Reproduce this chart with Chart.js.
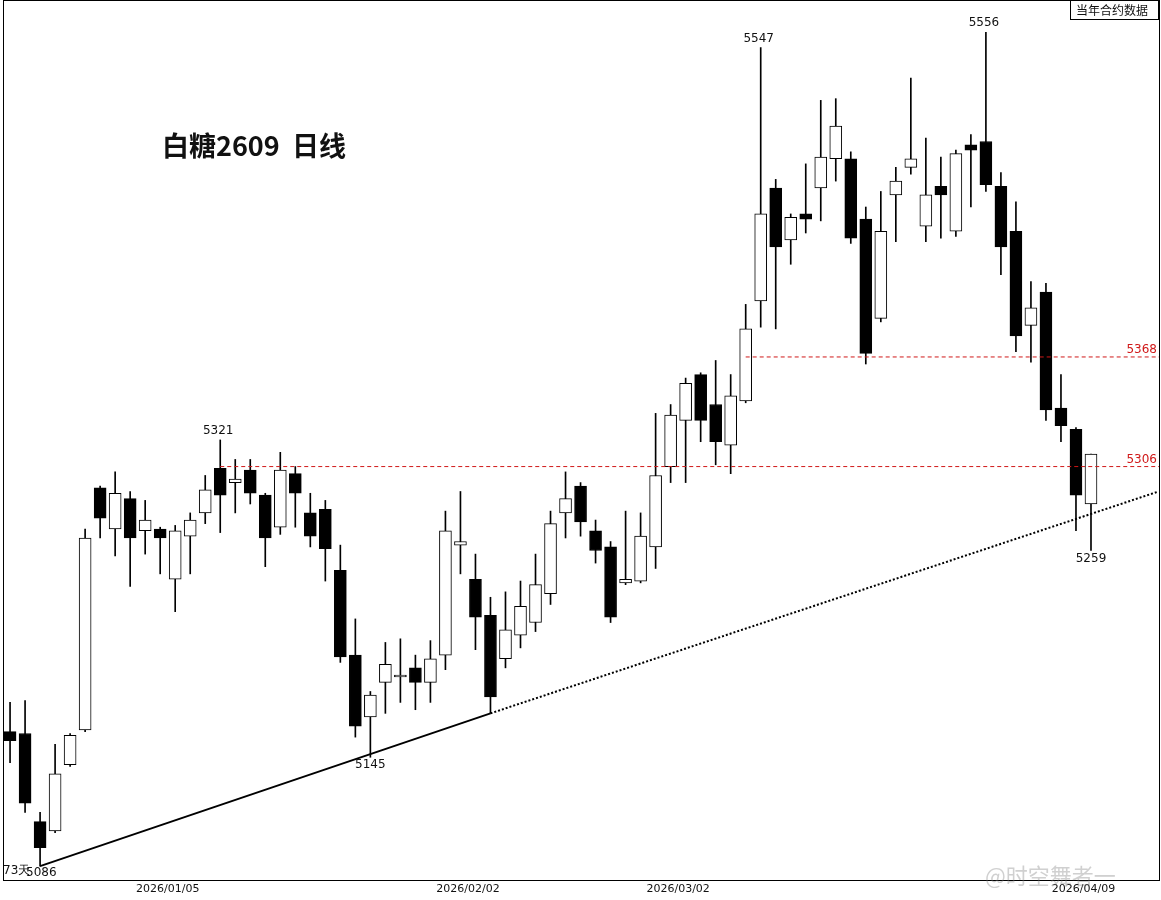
<!DOCTYPE html>
<html>
<head>
<meta charset="utf-8">
<script src="https://cdn.jsdelivr.net/npm/chart.js@4.4.1/dist/chart.umd.min.js"></script>
<style>
  html, body { margin: 0; padding: 0; background: #fff; }
</style>
</head>
<body>
<canvas id="c" width="1161" height="900"></canvas>
<script>
// daily OHLC
const opens  = [5159,5158,5110,5105,5141,5160,5294,5271,5288,5270,5271,5243,5267,5280,5305,5297,5304,5290,5272,5302,
                5280,5282,5248,5201,5167,5186,5189,5194,5186,5201,5262,5243,5223,5199,5212,5219,5235,5280,5295,5270,
                5261,5241,5242,5261,5306,5332,5358,5341,5318,5343,5400,5465,5435,5450,5465,5482,5482,5447,5390,5461,
                5477,5443,5466,5440,5490,5492,5466,5440,5386,5405,5339,5327,5285];
const highs  = [5175,5176,5115,5152,5158,5271,5295,5303,5292,5287,5272,5273,5280,5301,5321,5310,5310,5291,5314,5306,
                5291,5287,5262,5221,5181,5208,5210,5201,5209,5281,5292,5257,5233,5236,5242,5257,5281,5303,5297,5276,
                5264,5281,5280,5336,5341,5356,5359,5366,5358,5398,5547,5470,5450,5479,5516,5517,5486,5454,5463,5477,
                5529,5494,5483,5487,5496,5556,5474,5457,5411,5410,5358,5328,5313];
const lows   = [5142,5115,5086,5104,5140,5159,5266,5256,5239,5257,5246,5225,5246,5274,5269,5280,5285,5250,5268,5272,
                5261,5242,5197,5156,5145,5169,5175,5171,5175,5193,5246,5204,5169,5194,5205,5214,5229,5266,5267,5252,
                5219,5240,5241,5249,5297,5297,5320,5307,5302,5342,5385,5384,5421,5439,5446,5469,5433,5364,5388,5434,
                5473,5434,5436,5437,5454,5463,5415,5371,5365,5332,5320,5270,5259];
const closes = [5154,5120,5096,5136,5157,5266,5277,5291,5266,5276,5266,5270,5276,5293,5290,5299,5291,5266,5304,5291,
                5267,5260,5200,5162,5179,5196,5190,5186,5199,5270,5264,5222,5178,5215,5228,5240,5274,5288,5275,5259,
                5222,5243,5267,5301,5335,5353,5332,5320,5346,5384,5450,5431,5448,5447,5483,5501,5436,5370,5440,5469,
                5482,5461,5461,5485,5487,5467,5431,5380,5396,5338,5329,5290,5313];

// bottom axis dates (candle index positions)
const dateLabels = ['2026/01/05', '2026/02/02', '2026/03/02', '2026/04/09'];
const dateIdx = [10.5, 30.5, 44.5, 71.5];

// trend line points and levels
const trendX = [2, 32, 76.5];
const trendY = [5086, 5169, 5292];
const levels = [5368, 5306];
const levelStart = [49, 14];

// marked extremes: index, price, text position
const marks = [
  { i: 50, v: 5547, pos: 'above' },
  { i: 65, v: 5556, pos: 'above' },
  { i: 14, v: 5321, pos: 'above' },
  { i: 24, v: 5145, pos: 'below' },
  { i: 72, v: 5259, pos: 'below' },
];

const idx = opens.map((_, i) => i);
const bodies = idx.map(i => ({ x: i, y: [opens[i], closes[i]] }));
const wicks = idx.map(i => ({ x: i, y: [lows[i], highs[i]] }));
const up = idx.map(i => closes[i] >= opens[i]);

const XMAX = 76.53;

const overlay = {
  id: 'overlay',
  afterDraw(chart) {
    const ctx = chart.ctx;
    const xs = chart.scales.x, ys = chart.scales.y;
    const a = chart.chartArea;
    ctx.save();
    // frame
    ctx.strokeStyle = '#000';
    ctx.lineWidth = 1;
    ctx.strokeRect(a.left + 0.5, a.top + 0.5, a.right - a.left, a.bottom - a.top);

    // level labels
    ctx.fillStyle = '#d01818';
    ctx.font = '12px "DejaVu Sans", sans-serif';
    ctx.textAlign = 'right';
    ctx.textBaseline = 'bottom';
    levels.forEach(v => ctx.fillText(String(v), a.right - 2, ys.getPixelForValue(v) - 1));

    // extremes
    ctx.fillStyle = '#111';
    ctx.textAlign = 'center';
    marks.forEach(m => {
      const x = xs.getPixelForValue(m.i);
      const y = ys.getPixelForValue(m.v);
      if (m.pos === 'above') { ctx.textBaseline = 'bottom'; ctx.fillText(String(m.v), x - 2, y - 3); }
      else { ctx.textBaseline = 'top'; ctx.fillText(String(m.v), x, y + 2); }
    });
    // low marker with day count
    ctx.textBaseline = 'middle';
    ctx.textAlign = 'left';
    const lx = xs.getPixelForValue(2), ly = ys.getPixelForValue(5086);
    ctx.fillText('73天', a.left, ly + 5);
    ctx.fillText('5086', lx - 14, ly + 7);

    // dates
    ctx.textAlign = 'center';
    ctx.textBaseline = 'top';
    ctx.font = '11px "DejaVu Sans", sans-serif';
    dateLabels.forEach((d, k) => ctx.fillText(d, xs.getPixelForValue(dateIdx[k]), a.bottom + 4));

    // title
    ctx.textAlign = 'left';
    ctx.textBaseline = 'middle';
    ctx.font = 'bold 27px "Noto Sans CJK SC", serif';
    ctx.fillText('白糖2609  日线', 162, 146);

    // top-right note
    ctx.font = '12px "Noto Sans CJK SC", sans-serif';
    ctx.textAlign = 'center';
    ctx.fillText('当年合约数据', 1112, 10);
    ctx.strokeRect(1070.5, 0.5, 88, 19);

    // watermark
    ctx.fillStyle = 'rgba(120,120,120,0.35)';
    ctx.font = '22px "Noto Sans CJK SC", sans-serif';
    ctx.textAlign = 'left';
    ctx.fillText('@时空舞者一', 985, 876);
    ctx.restore();
  }
};

new Chart(document.getElementById('c'), {
  data: {
    datasets: [
      {
        type: 'bar', data: wicks, order: 3, grouped: false,
        backgroundColor: '#000', borderWidth: 0, barThickness: 1
      },
      {
        type: 'bar', data: bodies, order: 2, grouped: false,
        backgroundColor: idx.map(i => up[i] ? '#fff' : '#000'),
        borderColor: '#000', borderWidth: 1, borderSkipped: false, barThickness: 12
      },
      {
        type: 'line', order: 1,
        data: trendX.map((x, k) => ({ x: x, y: trendY[k] })),
        borderColor: '#000', borderWidth: 2, pointRadius: 0,
        segment: { borderDash: c => c.p0DataIndex >= 1 ? [2, 2] : undefined }
      },
      ...levels.map((v, k) => ({
        type: 'line', order: 1,
        data: [{ x: levelStart[k], y: v }, { x: XMAX, y: v }],
        borderColor: '#d01818', borderWidth: 1, borderDash: [4, 3], pointRadius: 0
      }))
    ]
  },
  options: {
    responsive: false,
    animation: false,
    devicePixelRatio: 1,
    layout: { padding: { left: 3, right: 2, top: 0, bottom: 20 } },
    plugins: { legend: { display: false }, tooltip: { enabled: false } },
    scales: {
      x: { type: 'linear', min: -0.47, max: XMAX, offset: false, display: false },
      y: { type: 'logarithmic', min: 5078.5, max: 5575, display: false }
    }
  },
  plugins: [overlay]
});
</script>
</body>
</html>
